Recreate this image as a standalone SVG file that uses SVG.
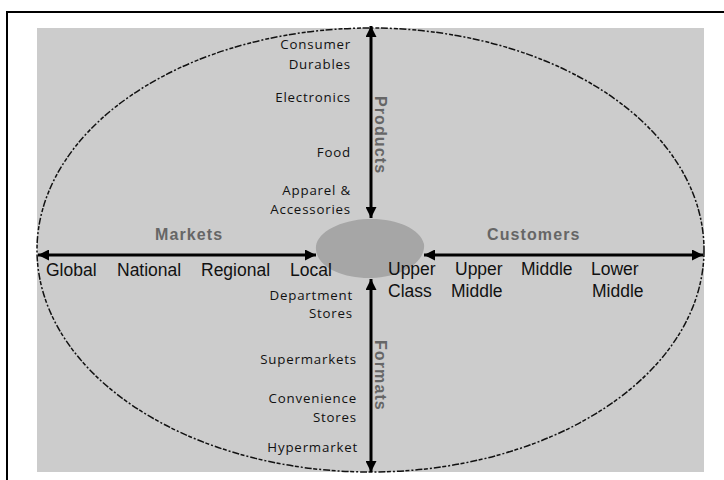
<svg xmlns="http://www.w3.org/2000/svg" width="724" height="480" viewBox="0 0 724 480">
<defs>
<style>
.frame{fill:none;stroke:#000;stroke-width:2}
.bg{fill:#cccccc}
.oval{fill:none;stroke:#111;stroke-width:1.5;stroke-dasharray:7 2 2 2 4 1.5}
.blob{fill:#a6a6a6}
.axis{stroke:#000;stroke-width:3;fill:none;marker-start:url(#ah);marker-end:url(#ah)}
.lbl{font-family:"Liberation Sans",Arial,sans-serif;font-size:17.5px;fill:#111}
.item{font-family:"Open Sans","Noto Sans",sans-serif;font-size:13.3px;letter-spacing:0.8px;fill:#111;text-anchor:end}
.title{font-family:"Liberation Sans",Arial,sans-serif;font-size:16px;font-weight:bold;fill:#666;letter-spacing:1.1px}
</style>
<marker id="ah" viewBox="0 0 10 10" refX="10" refY="5" markerWidth="12" markerHeight="11" markerUnits="userSpaceOnUse" orient="auto-start-reverse">
<path d="M0,0 L10,5 L0,10 Z" fill="#000"/>
</marker>
</defs>
<rect class="frame" x="7" y="12" width="740" height="500"/>
<rect class="bg" x="37" y="28" width="667" height="444"/>
<ellipse class="oval" cx="370.5" cy="250" rx="333.5" ry="222"/>
<g id="center">
<path class="blob" d="M316,246 C318,232 340,220 368,219 C395,218 420,228 424,244 C426,262 402,277 372,278 C342,279 314,266 316,246 Z"/>
</g>
<g id="connectors">
<line class="axis" x1="371" y1="26" x2="371" y2="218"/>
<line class="axis" x1="371" y1="279" x2="371" y2="472"/>
<line class="axis" x1="38" y1="255" x2="316" y2="255"/>
<line class="axis" x1="424" y1="255" x2="703" y2="255"/>
</g>
<g id="products">
<text class="title" transform="translate(375,96) rotate(90)">Products</text>
<text class="item" x="351" y="49">Consumer</text>
<text class="item" x="351" y="69">Durables</text>
<text class="item" x="351" y="102">Electronics</text>
<text class="item" x="351" y="157">Food</text>
<text class="item" x="351" y="195">Apparel &amp;</text>
<text class="item" x="351" y="214">Accessories</text>
</g>
<g id="formats">
<text class="title" transform="translate(375,340) rotate(90)">Formats</text>
<text class="item" x="353" y="300">Department</text>
<text class="item" x="353" y="318">Stores</text>
<text class="item" x="357" y="364">Supermarkets</text>
<text class="item" x="357" y="403">Convenience</text>
<text class="item" x="357" y="422">Stores</text>
<text class="item" x="358" y="452">Hypermarket</text>
</g>
<g id="markets">
<text class="title" x="155" y="240">Markets</text>
<text class="lbl" x="46" y="276">Global</text>
<text class="lbl" x="117" y="276">National</text>
<text class="lbl" x="201" y="276">Regional</text>
<text class="lbl" x="290" y="276">Local</text>
</g>
<g id="customers">
<text class="title" x="487" y="240">Customers</text>
<text class="lbl" x="388" y="275">Upper</text>
<text class="lbl" x="388" y="297">Class</text>
<text class="lbl" x="455" y="275">Upper</text>
<text class="lbl" x="451" y="297">Middle</text>
<text class="lbl" x="521" y="275">Middle</text>
<text class="lbl" x="591" y="275">Lower</text>
<text class="lbl" x="592" y="297">Middle</text>
</g>
</svg>
